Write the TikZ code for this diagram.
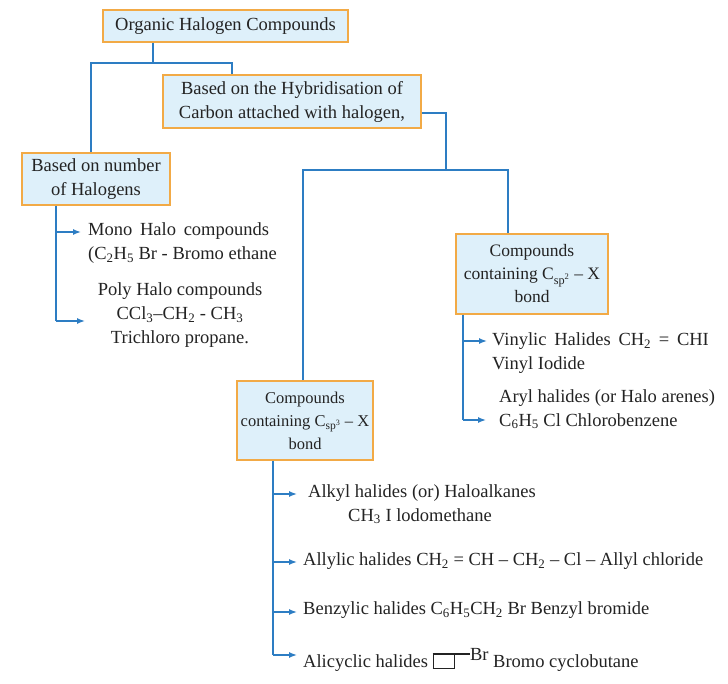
\documentclass[tikz,border=0pt]{standalone}
\usepackage{fontspec}
\setmainfont{Liberation Serif}
\usetikzlibrary{arrows.meta}
\definecolor{bfill}{RGB}{222,240,250}
\definecolor{bord}{RGB}{242,170,70}
\definecolor{ln}{RGB}{45,125,195}
\definecolor{txt}{RGB}{35,35,35}
\newcommand{\sbs}[1]{\textsubscript{#1}}
\begin{document}
\begin{tikzpicture}[x=1pt,y=-1pt,
 box/.style={draw=bord,fill=bfill,line width=1.5pt,align=center,inner sep=0pt,text=txt,font=\fontsize{18.5}{24}\selectfont},
 lbl/.style={anchor=west,align=left,inner sep=0pt,text=txt,font=\fontsize{18.5}{24}\selectfont},
 con/.style={draw=ln,line width=1.4pt},
 arr/.style={con,-{Latex[length=8pt,width=6pt]}}]
\useasboundingbox (0,0) rectangle (728,684);
\node[box,minimum width=245,minimum height=32] (org) at (225.5,26) {Organic Halogen Compounds};
\node[box,minimum width=258,minimum height=53] (hyb) at (292,101.5) {Based on the Hybridisation of\\Carbon attached with halogen,};
\node[box,minimum width=148,minimum height=52] (num) at (96,179) {Based on number\\of Halogens};
\node[box,minimum width=152,minimum height=80,font=\fontsize{17.5}{23}\selectfont] (sp2) at (532,274) {Compounds\\containing C\sbs{sp\textsuperscript{2}} -- X\\bond};
\node[box,minimum width=136,minimum height=79,font=\fontsize{16.5}{23}\selectfont] (sp3) at (305,420.5) {Compounds\\containing C\sbs{sp\textsuperscript{3}} -- X\\bond};
\coordinate (j1) at (153,63);
\coordinate (a1) at (91,63);
\coordinate (a2) at (232,63);
\draw[con] (org.south -| j1) -- (j1);
\draw[con] (num.north -| a1) |- (a2) -- (hyb.north -| a2);
\coordinate (h1) at (446,113);
\coordinate (h2) at (446,170);
\draw[con] (hyb.east |- h1) -- (h1) -- (h2);
\coordinate (b1) at (303,170);
\coordinate (b2) at (508,170);
\draw[con] (sp3.north -| b1) -- (b1) -- (b2) -- (sp2.north -| b2);
% number branch
\node[lbl] (mono) at (88,243) {Mono\, Halo\, compounds\\(C\sbs{2}H\sbs{5} Br - Bromo ethane};
\node[lbl,align=center,anchor=center] (poly) at (180,315) {Poly Halo compounds\\CCl\sbs{3}--CH\sbs{2} - CH\sbs{3}\\Trichloro propane.};
\coordinate (n1) at (56,232);
\coordinate (n2) at (56,321);
\draw[con] (num.south -| n1) -- (n2);
\draw[arr] (n1) -- (81,232) coordinate (n1e);
\draw[arr] (n2) -- (85,321) coordinate (n2e);
% sp2 branch
\node[lbl] (vin) at (492,353) {Vinylic\, Halides\, CH\sbs{2}\, =\, CHI\\Vinyl Iodide};
\node[lbl] (ary) at (499,409) {Aryl halides (or Halo arenes)\\C\sbs{6}H\sbs{5} Cl Chlorobenzene};
\coordinate (s1) at (463,341);
\coordinate (s2) at (463,420);
\draw[con] (sp2.south -| s1) -- (s2);
\draw[arr] (s1) -- (487,341) coordinate (s1e);
\draw[arr] (s2) -- (486,420) coordinate (s2e);
% sp3 branch
\node[lbl] (alk) at (308,493) {Alkyl halides (or) Haloalkanes};
\node[lbl] (alk2) at (348,516) {CH\sbs{3} I lodomethane};
\node[lbl] (ally) at (303,561) {Allylic halides CH\sbs{2} = CH -- CH\sbs{2} -- Cl -- Allyl chloride};
\node[lbl] (benz) at (303,610) {Benzylic halides C\sbs{6}H\sbs{5}CH\sbs{2} Br Benzyl bromide};
\node[lbl] (alic) at (303,660) {Alicyclic halides {\setlength\fboxsep{0pt}\setlength\fboxrule{1.2pt}\fbox{\rule{0pt}{13pt}\rule{20pt}{0pt}}}\rule[13pt]{15pt}{1.2pt}\raisebox{7pt}{Br} Bromo cyclobutane};
\coordinate (t0) at (273,494);
\coordinate (t1) at (273,562);
\coordinate (t2) at (273,612);
\coordinate (t3) at (273,655);
\draw[con] (sp3.south -| t0) -- (t3);
\draw[arr] (t0) -- (297,494) coordinate (t0e);
\draw[arr] (t1) -- (297,562) coordinate (t1e);
\draw[arr] (t2) -- (297,612) coordinate (t2e);
\draw[arr] (t3) -- (297,655) coordinate (t3e);
\end{tikzpicture}
\end{document}
